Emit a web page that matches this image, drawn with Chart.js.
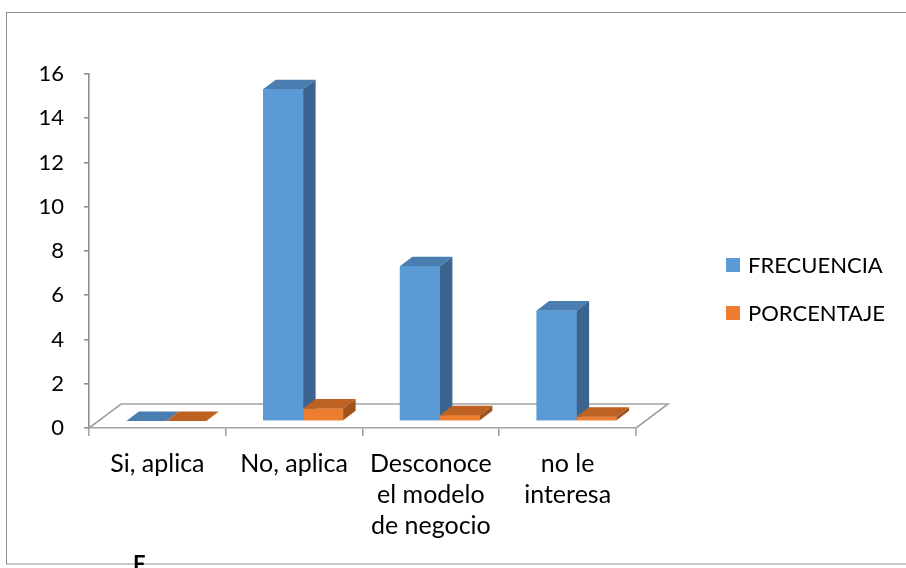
<!DOCTYPE html>
<html>
<head>
<meta charset="utf-8">
<script src="https://cdn.jsdelivr.net/npm/chart.js@4.4.1/dist/chart.umd.min.js"></script>
<style>
  html, body { margin: 0; padding: 0; background: #ffffff; }
  #wrap { width: 906px; height: 568px; }
</style>
</head>
<body>
<div id="wrap"><canvas id="c" width="906" height="568"></canvas></div>
<script>
// Survey answers and their counts / shares
const categories = ['Si, aplica', 'No, aplica', ['Desconoce', 'el modelo', 'de negocio'], ['no le', 'interesa']];
const frecuencia = [0, 15, 7, 5];
const porcentaje = [0, 0.56, 0.26, 0.19];
const seriesNames = ['FRECUENCIA', 'PORCENTAJE'];
const yMin = 0, yMax = 16, yStep = 2;

const FONT = 'Lato, "Open Sans", sans-serif';
const colors = {
  blue:   { front: '#5B9BD5', top: '#4A7DB0', side: '#3B6590' },
  orange: { front: '#ED7D31', top: '#BE6223', side: '#A0531C' }
};

// depth of a bar box and of the floor, plus the offset of the bar plane
const BAR_DX = 12.5, BAR_DY = -9.5;
const FLOOR_DX = 32, FLOOR_DY = -24;
const PLANE_DX = 9, PLANE_DY = -7;

const shade = (ctx, pts, fill) => {
  ctx.beginPath();
  ctx.moveTo(pts[0][0], pts[0][1]);
  for (let i = 1; i < pts.length; i++) ctx.lineTo(pts[i][0], pts[i][1]);
  ctx.closePath();
  ctx.fillStyle = fill;
  ctx.fill();
};

const box3d = {
  id: 'box3d',
  beforeDraw(chart) {
    const { ctx } = chart;
    ctx.save();
    ctx.strokeStyle = '#8c8c8c';
    ctx.lineWidth = 1;
    ctx.strokeRect(6.5, 12.5, 960, 551.5);
    ctx.restore();
  },
  beforeDatasetsDraw(chart) {
    const { ctx, chartArea: a } = chart;
    ctx.save();
    ctx.strokeStyle = '#a3a3a3';
    ctx.lineWidth = 1.6;
    ctx.beginPath();
    ctx.moveTo(a.left, a.bottom);
    ctx.lineTo(a.left + FLOOR_DX, a.bottom + FLOOR_DY);
    ctx.lineTo(a.right + FLOOR_DX, a.bottom + FLOOR_DY);
    ctx.lineTo(a.right, a.bottom);
    ctx.stroke();
    ctx.restore();
  },
  beforeDatasetDraw(chart) {
    chart.ctx.save();
    chart.ctx.translate(PLANE_DX, PLANE_DY);
  },
  afterDatasetDraw(chart) {
    chart.ctx.restore();
  },
  // boxes are finished left to right so each series' front face covers
  // the side face of the series next to it
  afterDatasetsDraw(chart) {
    const { ctx } = chart;
    ctx.save();
    ctx.translate(PLANE_DX, PLANE_DY);
    chart.data.datasets.forEach((ds, i) => {
      const meta = chart.getDatasetMeta(i);
      const c = ds.faces;
      meta.data.forEach(el => {
        el.draw(ctx, chart.chartArea);
        const p = el.getProps(['x', 'y', 'base', 'width'], true);
        const l = p.x - p.width / 2, r = p.x + p.width / 2;
        const top = Math.min(p.y, p.base), bot = Math.max(p.y, p.base);
        shade(ctx, [[l, top], [r, top], [r + BAR_DX, top + BAR_DY], [l + BAR_DX, top + BAR_DY]], c.top);
        if (bot - top > 0.5) {
          shade(ctx, [[r, top], [r + BAR_DX, top + BAR_DY], [r + BAR_DX, bot + BAR_DY], [r, bot]], c.side);
        }
      });
    });
    ctx.restore();
  },
  afterDraw(chart) {
    const { ctx } = chart;
    ctx.save();
    // legend on the right
    const rows = [265, 313];
    chart.data.datasets.forEach((ds, i) => {
      ctx.fillStyle = ds.backgroundColor;
      ctx.fillRect(726, rows[i] - 7, 14, 14);
      ctx.fillStyle = '#000000';
      ctx.font = '22px ' + FONT;
      ctx.textBaseline = 'middle';
      ctx.textAlign = 'left';
      ctx.fillText(ds.label, 748, rows[i] + 1);
    });
    // page text below the frame
    ctx.fillStyle = '#000000';
    ctx.font = 'bold 22px ' + FONT;
    ctx.textBaseline = 'alphabetic';
    ctx.fillText('F', 133, 572);
    ctx.restore();
  }
};

new Chart(document.getElementById('c'), {
  type: 'bar',
  data: {
    labels: categories,
    datasets: [
      { label: seriesNames[0], data: frecuencia, backgroundColor: colors.blue.front, faces: colors.blue,
        categoryPercentage: 0.585, barPercentage: 1.0, borderWidth: 0 },
      { label: seriesNames[1], data: porcentaje, backgroundColor: colors.orange.front, faces: colors.orange,
        categoryPercentage: 0.585, barPercentage: 1.0, borderWidth: 0 }
    ]
  },
  options: {
    responsive: false,
    animation: false,
    devicePixelRatio: 1,
    layout: { padding: { left: 0, top: 74, right: 270, bottom: 0 } },
    plugins: { legend: { display: false }, tooltip: { enabled: false } },
    scales: {
      x: {
        afterFit(s) { s.height = 140; },
        border: { display: true, color: '#a3a3a3', width: 1.6 },
        grid: { display: true, offset: true, drawOnChartArea: false, drawTicks: true, tickLength: 8, color: '#a3a3a3', lineWidth: 1.6 },
        ticks: { color: '#000000', font: { family: FONT, size: 25, lineHeight: 1.25 }, padding: 12, maxRotation: 0, autoSkip: false }
      },
      y: {
        min: yMin, max: yMax,
        afterFit(s) { s.width = 89; },
        border: { display: true, color: '#8f8f8f', width: 1.6 },
        grid: { display: true, drawOnChartArea: false, drawTicks: true, tickLength: 5, color: '#8f8f8f', lineWidth: 1.6 },
        ticks: { stepSize: yStep, color: '#000000', font: { family: FONT, size: 22 }, padding: 20 }
      }
    }
  },
  plugins: [box3d]
});
</script>
</body>
</html>
